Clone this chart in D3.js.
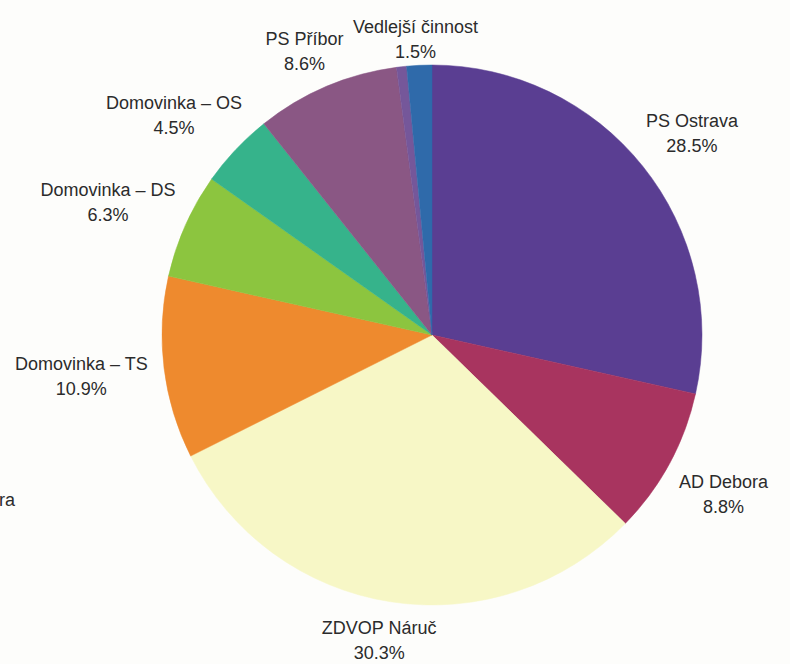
<!DOCTYPE html>
<html>
<head>
<meta charset="utf-8">
<script src="https://cdn.jsdelivr.net/npm/d3@7"></script>
<style>
html,body{margin:0;padding:0;background:#fdfdfb;}
svg{display:block;}
text{font-family:"Liberation Sans",Arial,sans-serif;fill:#2b2b2b;}
</style>
</head>
<body>
<svg id="chart" width="790" height="664"></svg>
<script>
const categories = ["PS Ostrava","AD Debora","ZDVOP Náruč","Domovinka – TS","Domovinka – DS","Domovinka – OS","PS Příbor","","Vedlejší činnost"];
const values = [28.5, 8.8, 30.3, 10.9, 6.3, 4.5, 8.6, 0.6, 1.5];
const valueLabels = ["28.5%","8.8%","30.3%","10.9%","6.3%","4.5%","8.6%","","1.5%"];
const colors = ["#5a3e92","#a8345f","#f7f7c6","#ee8a2e","#8cc53f","#36b38b","#8a5784","#75579a","#2f6aaa"];

const svg = d3.select("#chart");
const H = 664;
const cx = 432, cy = 335, R = 270;

const data = categories.map((c,i)=>({name:c, value:values[i], label:valueLabels[i], color:colors[i]}));

const pie = d3.pie().value(d=>d.value).sort(null).startAngle(0).endAngle(2*Math.PI);
const arcs = pie(data);
const arc = d3.arc().innerRadius(0).outerRadius(R);

const g = svg.append("g").attr("transform",`translate(${cx},${cy})`);
g.selectAll("path.slice").data(arcs).enter().append("path")
  .attr("class","slice")
  .attr("d",arc)
  .attr("fill",d=>d.data.color)
  .attr("stroke",d=>d.data.color)
  .attr("stroke-width",0.5);

const fs = 18, lh = 25;
const labels = g.selectAll("g.lab").data(arcs.filter(d=>d.data.name!=="")).enter().append("g").attr("class","lab");
labels.each(function(d){
  const sel = d3.select(this);
  const t1 = sel.append("text").attr("text-anchor","middle").attr("font-size",fs).text(d.data.name);
  const t2 = sel.append("text").attr("text-anchor","middle").attr("font-size",fs).text(d.data.label);
  const w = Math.max(t1.node().getComputedTextLength(), t2.node().getComputedTextLength());
  const h = 45;
  const a = (d.startAngle+d.endAngle)/2;
  const s = Math.sin(a), c = Math.cos(a);
  const rx = 287;
  const ry = 272 + 35*Math.abs(s) + (c < 0 ? 10 : 0);
  const x = rx*s + s*w/2;
  let y = -ry*c - c*h/2;
  // keep second line inside the picture
  const maxY = H - cy - 5 - (lh/2 + 6);
  if (y > maxY) y = maxY;
  t1.attr("x",x).attr("y",y - lh/2 + 6);
  t2.attr("x",x).attr("y",y + lh/2 + 6);
});

// cut-off text fragment at left edge
svg.append("text").attr("x",15).attr("y",506).attr("text-anchor","end").attr("font-size",fs).text("ra");
</script>
</body>
</html>
